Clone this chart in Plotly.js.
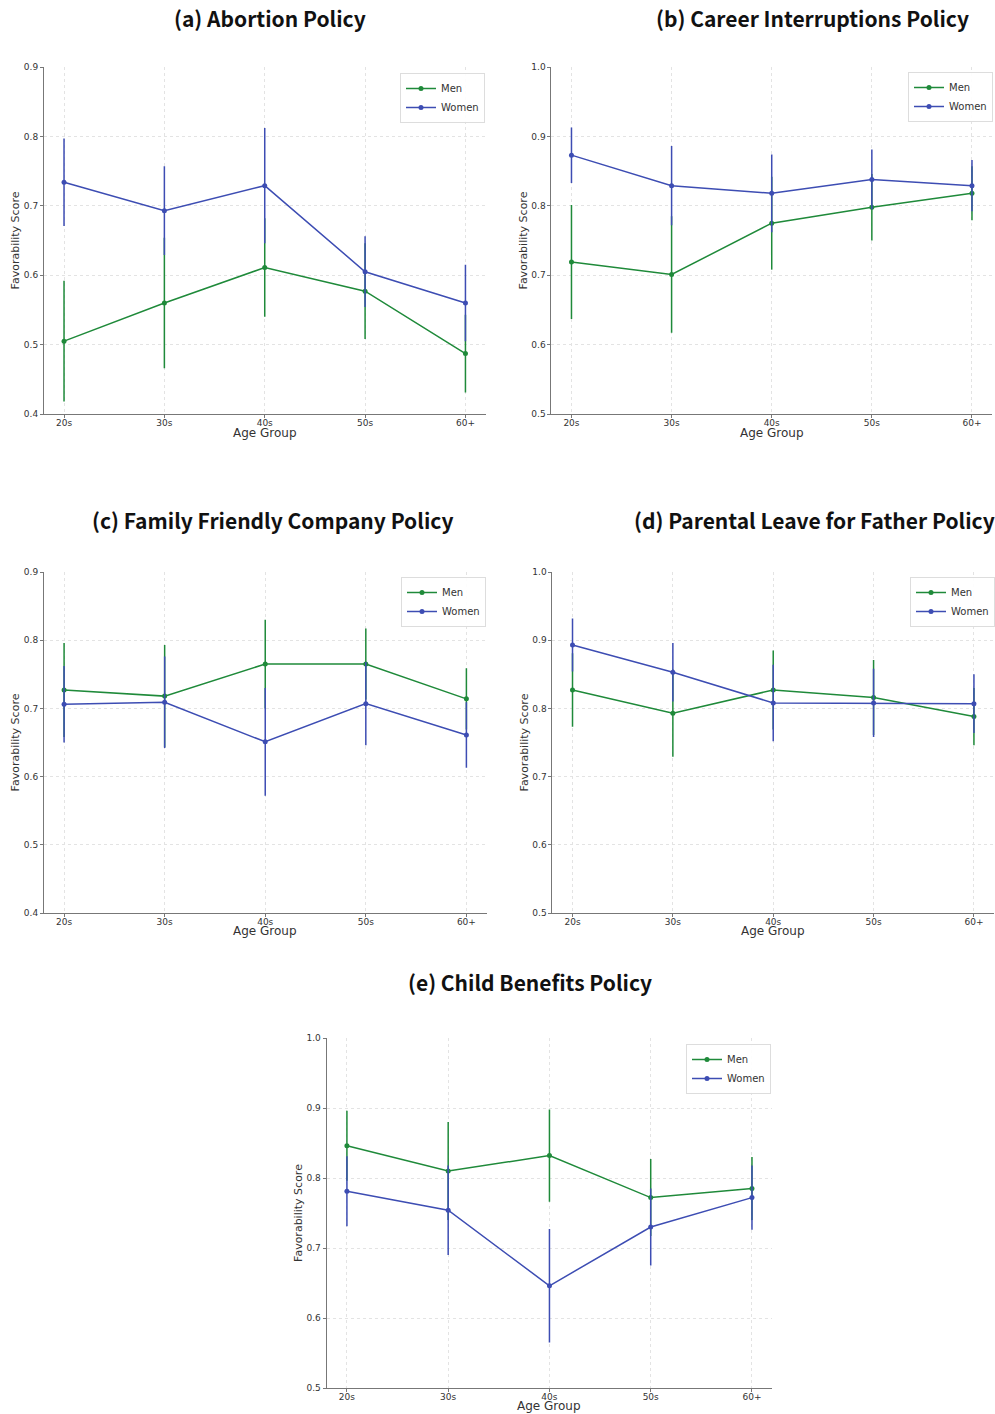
<!DOCTYPE html>
<html>
<head>
<meta charset="utf-8">
<script src="https://cdn.plot.ly/plotly-3.0.1.min.js"></script>
<style>html,body{margin:0;padding:0;background:#fff}#chart{width:995px;height:1414px}</style>
</head>
<body>
<div id="chart"></div>
<script>
const ageGroups = ["20s", "30s", "40s", "50s", "60+"];

const panelTitles = [
  "(a) Abortion Policy",
  "(b) Career Interruptions Policy",
  "(c) Family Friendly Company Policy",
  "(d) Parental Leave for Father Policy",
  "(e) Child Benefits Policy"
];

// (a) Abortion Policy
const abortionMen = [0.505, 0.560, 0.611, 0.577, 0.487];
const abortionMenErr = [0.087, 0.094, 0.071, 0.069, 0.056];
const abortionWomen = [0.734, 0.693, 0.729, 0.605, 0.560];
const abortionWomenErr = [0.063, 0.064, 0.083, 0.051, 0.055];

// (b) Career Interruptions Policy
const careerMen = [0.719, 0.701, 0.775, 0.798, 0.818];
const careerMenErr = [0.082, 0.084, 0.067, 0.048, 0.039];
const careerWomen = [0.873, 0.829, 0.818, 0.838, 0.829];
const careerWomenErr = [0.040, 0.057, 0.056, 0.043, 0.037];

// (c) Family Friendly Company Policy
const familyMen = [0.727, 0.718, 0.765, 0.765, 0.714];
const familyMenErr = [0.069, 0.075, 0.065, 0.052, 0.045];
const familyWomen = [0.706, 0.709, 0.651, 0.707, 0.661];
const familyWomenErr = [0.056, 0.067, 0.079, 0.061, 0.048];

// (d) Parental Leave for Father Policy
const leaveMen = [0.827, 0.793, 0.827, 0.816, 0.788];
const leaveMenErr = [0.054, 0.064, 0.058, 0.055, 0.042];
const leaveWomen = [0.893, 0.853, 0.808, 0.808, 0.807];
const leaveWomenErr = [0.039, 0.043, 0.056, 0.050, 0.043];

// (e) Child Benefits Policy
const childMen = [0.846, 0.810, 0.832, 0.772, 0.785];
const childMenErr = [0.050, 0.070, 0.066, 0.055, 0.045];
const childWomen = [0.781, 0.754, 0.646, 0.730, 0.772];
const childWomenErr = [0.050, 0.064, 0.081, 0.055, 0.046];

const yRanges = [[0.4, 0.9], [0.5, 1.0], [0.4, 0.9], [0.5, 1.0], [0.5, 1.0]];

const panelData = [
  [abortionMen, abortionMenErr, abortionWomen, abortionWomenErr],
  [careerMen, careerMenErr, careerWomen, careerWomenErr],
  [familyMen, familyMenErr, familyWomen, familyWomenErr],
  [leaveMen, leaveMenErr, leaveWomen, leaveWomenErr],
  [childMen, childMenErr, childWomen, childWomenErr]
];

// layout geometry in pixels (left, right, top, bottom)
const W = 995, H = 1414;
const boxes = [
  [44, 486, 67, 414],
  [552, 993, 67, 414],
  [44, 487, 572, 913],
  [553, 995, 572, 913],
  [327, 773, 1038, 1388]
];
const legendPos = [[400, 73], [908, 72], [401, 577], [911, 577], [686, 1044]];
const titleCenters = [[270, 18], [813, 18], [273, 520], [815, 520], [531, 982]];
const xTitleY = [433, 433, 931, 931, 1406];

const GREEN = "#1f8a3a";
const BLUE = "#3d4db3";

const traces = [];
const layout = {
  width: W, height: H,
  margin: {l: 0, r: 0, t: 0, b: 0},
  paper_bgcolor: "#fff",
  plot_bgcolor: "#fff",
  font: {family: "DejaVu Sans, sans-serif", color: "#333"},
  annotations: []
};

boxes.forEach((b, i) => {
  const n = i + 1;
  const xa = n === 1 ? "x" : "x" + n;
  const ya = n === 1 ? "y" : "y" + n;
  const lg = n === 1 ? "legend" : "legend" + n;
  const [men, menErr, women, womenErr] = panelData[i];
  traces.push({
    type: "scatter", mode: "lines+markers", name: "Men",
    x: ageGroups, y: men, xaxis: xa, yaxis: ya, legend: lg,
    line: {color: GREEN, width: 1.5}, marker: {color: GREEN, size: 5},
    error_y: {type: "data", array: menErr, visible: true, color: GREEN, thickness: 1.5, width: 0}
  });
  traces.push({
    type: "scatter", mode: "lines+markers", name: "Women",
    x: ageGroups, y: women, xaxis: xa, yaxis: ya, legend: lg,
    line: {color: BLUE, width: 1.5}, marker: {color: BLUE, size: 5},
    error_y: {type: "data", array: womenErr, visible: true, color: BLUE, thickness: 1.5, width: 0}
  });
  const xKey = n === 1 ? "xaxis" : "xaxis" + n;
  const yKey = n === 1 ? "yaxis" : "yaxis" + n;
  layout[xKey] = {
    domain: [b[0] / W, b[1] / W], anchor: ya,
    type: "category", range: [-0.2, 4.2],
    showline: true, linecolor: "#777", linewidth: 1,
    ticks: "outside", ticklen: 3, tickcolor: "#777", ticklabelstandoff: -3,
    showgrid: true, gridcolor: "#e3e3e3", griddash: "dot", gridwidth: 1,
    zeroline: false, tickfont: {size: 9, color: "#333"},
    automargin: false, fixedrange: true
  };
  layout[yKey] = {
    domain: [1 - b[3] / H, 1 - b[2] / H], anchor: xa,
    range: yRanges[i], dtick: 0.1, tick0: 0, tickformat: ".1f",
    showline: true, linecolor: "#777", linewidth: 1,
    ticks: "outside", ticklen: 3, tickcolor: "#777",
    showgrid: true, gridcolor: "#e3e3e3", griddash: "dot", gridwidth: 1,
    zeroline: false, tickfont: {size: 9, color: "#333"},
    title: {text: "Favorability Score", font: {size: 11, color: "#333"}, standoff: 1},
    automargin: false, fixedrange: true
  };
  layout[lg] = {
    x: legendPos[i][0] / W, y: 1 - legendPos[i][1] / H,
    xanchor: "left", yanchor: "top",
    bgcolor: "rgba(255,255,255,0.9)", bordercolor: "#dddddd", borderwidth: 1,
    font: {size: 10, color: "#333"}, itemwidth: 30, tracegroupgap: 0
  };
  layout.annotations.push({
    text: "Age Group",
    xref: "paper", yref: "paper",
    x: ((b[0] + b[1]) / 2) / W, y: 1 - xTitleY[i] / H,
    xanchor: "center", yanchor: "middle", showarrow: false,
    font: {size: 12, color: "#333"}
  });
  layout.annotations.push({
    text: "<b>" + panelTitles[i] + "</b>",
    xref: "paper", yref: "paper",
    x: titleCenters[i][0] / W, y: 1 - titleCenters[i][1] / H,
    xanchor: "center", yanchor: "middle", showarrow: false,
    font: {family: "Noto Sans CJK SC, Noto Sans, sans-serif", size: 21, color: "#111"}
  });
});

Plotly.newPlot("chart", traces, layout, {displayModeBar: false, staticPlot: true});
</script>
</body>
</html>
